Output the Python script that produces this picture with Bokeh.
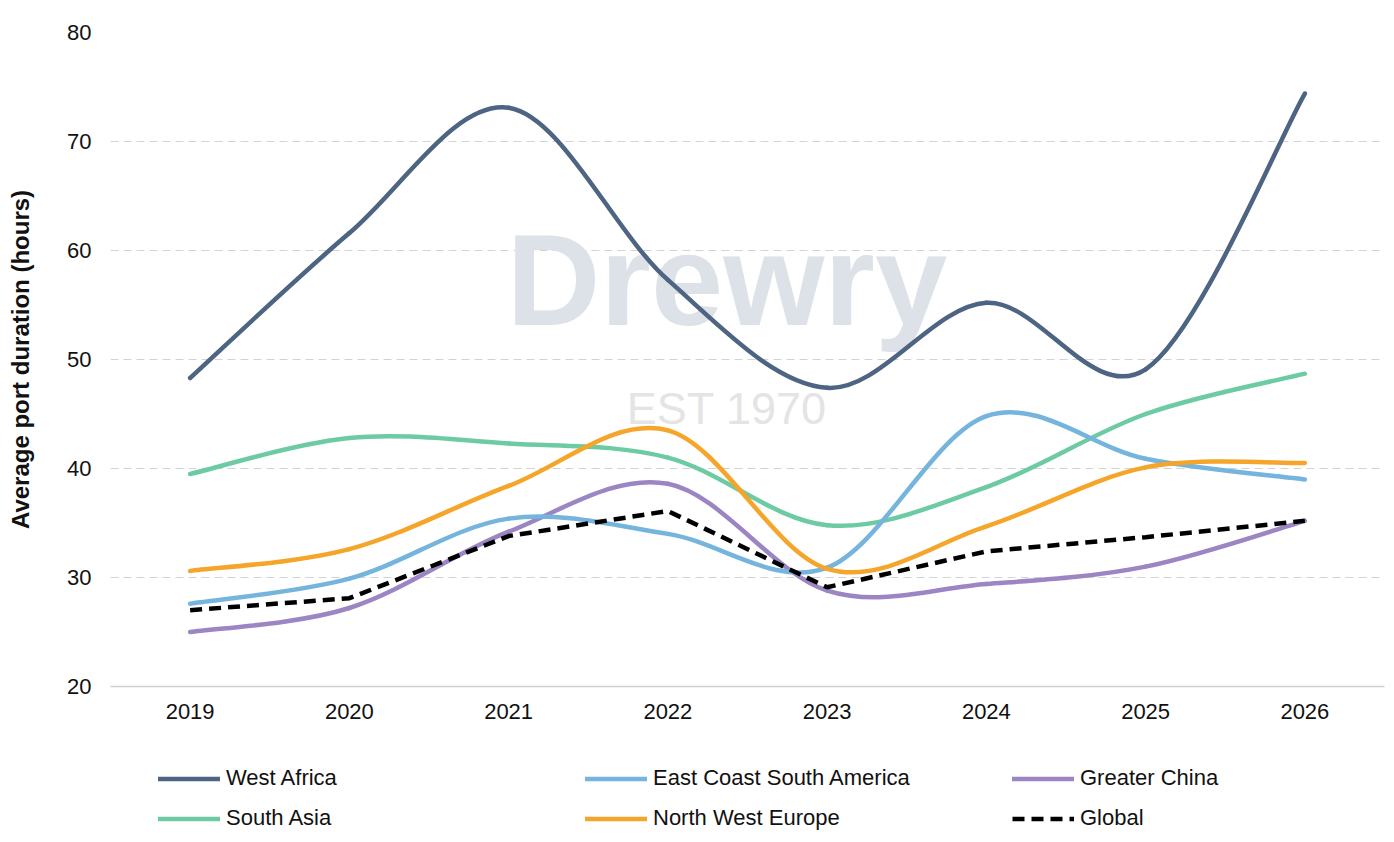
from bokeh.plotting import figure
from bokeh.models import (ColumnDataSource, Legend, LegendItem, FixedTicker, Label,
                          Range1d)
from bokeh.layouts import column
from bokeh.embed import file_html
from bokeh.resources import INLINE

years = [2019, 2020, 2021, 2022, 2023, 2024, 2025, 2026]
west_africa = [48.3, 61.6, 73.1, 57.3, 47.4, 55.2, 49.1, 74.4]
east_coast_south_america = [27.6, 29.9, 35.4, 34.0, 30.9, 44.8, 40.9, 39.0]
greater_china = [25.0, 27.2, 34.2, 38.6, 28.8, 29.4, 31.0, 35.2]
south_asia = [39.5, 42.8, 42.3, 41.0, 34.8, 38.3, 45.0, 48.7]
north_west_europe = [30.6, 32.6, 38.4, 43.5, 30.8, 34.7, 40.1, 40.5]
global_avg = [27.0, 28.1, 33.8, 36.1, 29.1, 32.4, 33.7, 35.2]
y_ticks = [20, 30, 40, 50, 60, 70, 80]

FONT = "Liberation Sans"
W = 1386

p = figure(width=W, height=740, output_backend="svg", toolbar_location=None,
           x_range=Range1d(2018.5, 2026.5), y_range=Range1d(20, 80),
           min_border_left=110, min_border_right=2, min_border_top=32,
           min_border_bottom=54)
p.outline_line_color = None
p.background_fill_color = "white"
p.border_fill_color = "white"

# watermark
p.add_layout(Label(x=2022.37, y=57.3, text="Drewry", text_align="center",
                   text_baseline="alphabetic", text_font=FONT, text_font_style="bold",
                   text_font_size="130px", text_color="#DCE2E8", level="underlay"))
p.add_layout(Label(x=2022.37, y=45.5, text="EST 1970", text_align="center",
                   text_baseline="alphabetic", text_font=FONT,
                   text_font_size="45px", text_color="#E4E4E4", level="underlay"))


def smooth(xs, ys):
    n = len(xs)
    x0, y0, x1, y1, cx0, cy0, cx1, cy1 = [], [], [], [], [], [], [], []
    for i in range(n - 1):
        pm = max(i - 1, 0)
        pn = min(i + 2, n - 1)
        x0.append(xs[i]); y0.append(ys[i])
        x1.append(xs[i + 1]); y1.append(ys[i + 1])
        cx0.append(xs[i] + (xs[i + 1] - xs[pm]) / 6.0)
        cy0.append(ys[i] + (ys[i + 1] - ys[pm]) / 6.0)
        cx1.append(xs[i + 1] - (xs[pn] - xs[i]) / 6.0)
        cy1.append(ys[i + 1] - (ys[pn] - ys[i]) / 6.0)
    return ColumnDataSource(dict(x0=x0, y0=y0, x1=x1, y1=y1,
                                 cx0=cx0, cy0=cy0, cx1=cx1, cy1=cy1))


series = {
    "West Africa": (west_africa, "#4D6482"),
    "East Coast South America": (east_coast_south_america, "#74B4DD"),
    "Greater China": (greater_china, "#9C85C3"),
    "South Asia": (south_asia, "#6DCBA3"),
    "North West Europe": (north_west_europe, "#F5A52A"),
    "Global": (global_avg, "black"),
}
LW = 4.5
draw_order = ["South Asia", "Greater China", "East Coast South America",
              "North West Europe", "West Africa"]
for name in draw_order:
    vals, col = series[name]
    p.bezier(x0="x0", y0="y0", x1="x1", y1="y1", cx0="cx0", cy0="cy0",
             cx1="cx1", cy1="cy1", source=smooth(years, vals), line_color=col,
             line_width=LW, line_cap="round")

p.line(years, global_avg, line_color="black", line_width=LW, line_dash="12 7")

# axes
p.xaxis.ticker = FixedTicker(ticks=years)
p.yaxis.ticker = FixedTicker(ticks=y_ticks)
for ax in (p.xaxis, p.yaxis):
    ax.major_tick_line_color = None
    ax.minor_tick_line_color = None
    ax.major_label_text_font = FONT
    ax.major_label_text_font_size = "22px"
    ax.major_label_text_color = "#111111"
p.yaxis.axis_line_color = None
p.xaxis.axis_line_color = "#D0D0D0"
p.xaxis.axis_line_width = 1.5
p.xaxis.major_label_standoff = 11
p.yaxis.major_label_standoff = 13
p.yaxis.axis_label = "Average port duration (hours)"
p.yaxis.axis_label_text_font = FONT
p.yaxis.axis_label_text_font_style = "bold"
p.yaxis.axis_label_text_font_size = "24px"
p.yaxis.axis_label_text_color = "#111111"
p.yaxis.axis_label_standoff = 30

p.xgrid.grid_line_color = None
p.ygrid.grid_line_color = "#D3D3D3"
p.ygrid.grid_line_dash = "8 5"
p.ygrid.grid_line_width = 1.2

# legend in its own strip below the chart (series drawn out of view there)
p2 = figure(width=W, height=96, output_backend="svg", toolbar_location=None,
            x_range=Range1d(0, 1), y_range=Range1d(0, 1),
            min_border_left=110, min_border_right=2, min_border_top=0,
            min_border_bottom=0)
p2.axis.visible = False
p2.grid.visible = False
p2.outline_line_color = None

order = ["West Africa", "East Coast South America", "Greater China",
         "South Asia", "North West Europe", "Global"]
items = []
for name in order:
    vals, col = series[name]
    if name == "Global":
        r = p2.line(years, vals, line_color=col, line_width=LW, line_dash="12 7")
    else:
        r = p2.line(years, vals, line_color=col, line_width=LW, line_cap="round")
    items.append(LegendItem(label=name, renderers=[r]))

legend = Legend(items=items, orientation="horizontal", ncols=3, location=(48, 2.5),
                padding=0, margin=0, spacing=9, glyph_width=62, glyph_height=31,
                label_height=31, label_width=350, label_standoff=6,
                label_text_font=FONT, label_text_font_size="22px",
                label_text_color="#111111", border_line_alpha=0,
                background_fill_alpha=0)
p2.add_layout(legend, "center")

layout = column(p, p2, spacing=0)
open("out.html", "w").write(file_html(layout, INLINE))
